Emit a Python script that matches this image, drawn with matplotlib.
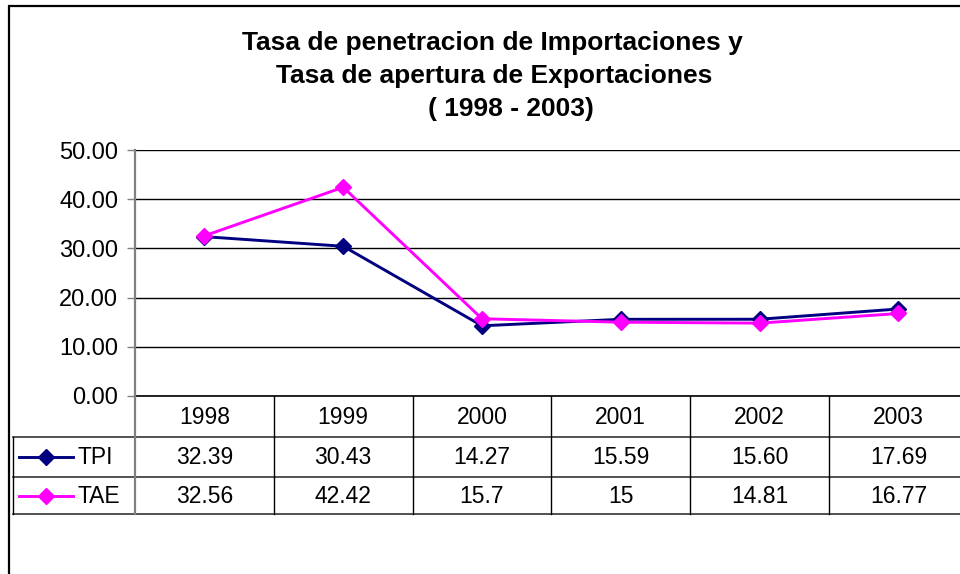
import matplotlib
matplotlib.use("Agg")
import matplotlib.pyplot as plt
from matplotlib.patches import Rectangle

plt.rcParams['font.family'] = ['Liberation Sans', 'DejaVu Sans']

years = ["1998", "1999", "2000", "2001", "2002", "2003"]
tpi = [32.39, 30.43, 14.27, 15.59, 15.60, 17.69]
tae = [32.56, 42.42, 15.7, 15, 14.81, 16.77]
tpi_labels = ["32.39", "30.43", "14.27", "15.59", "15.60", "17.69"]
tae_labels = ["32.56", "42.42", "15.7", "15", "14.81", "16.77"]
series_names = ["TPI", "TAE"]
colors = ["#000080", "#FF00FF"]
title_lines = ["Tasa de penetracion de Importaciones y",
               "Tasa de apertura de Exportaciones",
               "( 1998 - 2003)"]
yticks = [0, 10, 20, 30, 40, 50]

W, H = 960, 574
fig = plt.figure(figsize=(W / 100, H / 100), dpi=100)
fig.patch.set_facecolor("white")

# outer chart border
fig.patches.append(Rectangle((9 / W, -0.1), 1.2, 1 - 6 / H + 0.1, transform=fig.transFigure,
                             fill=False, edgecolor="black", lw=1.6))

# plot area
colw = 138.8
left_px, top_px, bot_px = 135, 150, 396
ax = fig.add_axes([left_px / W, 1 - bot_px / H, 6 * colw / W, (bot_px - top_px) / H])
ax.set_xlim(-0.5, 5.5)
ax.set_ylim(0, 50)
ax.set_yticks(yticks)
ax.set_yticklabels([f"{v:.2f}" for v in yticks], fontsize=17)
ax.set_xticks([])
ax.yaxis.grid(True, color="black", lw=1.0)
ax.set_axisbelow(True)
for s in ["top", "right"]:
    ax.spines[s].set_visible(False)
ax.spines["bottom"].set_color("black")
ax.spines["bottom"].set_linewidth(1.2)
ax.spines["left"].set_color("#808080")
ax.spines["left"].set_linewidth(1.6)
ax.tick_params(axis="y", direction="out", length=6, width=1, color="#808080", pad=6)
ax.patch.set_alpha(0)

xs = list(range(len(years)))
for vals, c in zip([tpi, tae], colors):
    ax.plot(xs, vals, color=c, lw=2.1, marker="D", ms=8, mec=c, mfc=c, clip_on=False, zorder=3)

# data table
row_top_px = [396, 437, 477, 514]
tab_left_px = 13
xl = -0.5 - (left_px - tab_left_px) / colw
tax = fig.add_axes([tab_left_px / W, 1 - 514 / H, (left_px + 6 * colw - tab_left_px) / W, 118 / H])
tax.set_xlim(xl, 5.5)
tax.set_ylim(118, 0)
tax.axis("off")
rows = [r - 396 for r in row_top_px]
lc = "#333333"
for r in rows[1:]:
    tax.plot([xl, 5.5], [r, r], color=lc, lw=1.2, clip_on=False)
tax.plot([-0.5, -0.5], [0, rows[-1]], color="#808080", lw=1.6, clip_on=False)
for i in range(len(years) - 1):
    tax.plot([i + 0.5, i + 0.5], [0, rows[-1]], color="black", lw=1.0, clip_on=False)
tax.plot([xl, xl], [rows[1], rows[-1]], color="black", lw=1.0, clip_on=False)

for i, y in enumerate(years):
    tax.text(i, (rows[0] + rows[1]) / 2 + 1, y, ha="center", va="center", fontsize=16.5)
for k, (labs, name, c) in enumerate(zip([tpi_labels, tae_labels], series_names, colors)):
    yc = (rows[k + 1] + rows[k + 2]) / 2 + 1
    for i, lab in enumerate(labs):
        tax.text(i, yc, lab, ha="center", va="center", fontsize=16.5)
    x0 = -0.5 + (19 - left_px) / colw
    x1 = -0.5 + (73 - left_px) / colw
    xm = -0.5 + (46 - left_px) / colw
    tax.plot([x0, x1], [yc - 1, yc - 1], color=c, lw=2.1, clip_on=False)
    tax.plot([xm], [yc - 1], marker="D", ms=8, color=c, mec=c, clip_on=False)
    tax.text(-0.5 + (78 - left_px) / colw, yc, name, ha="left", va="center", fontsize=16.5)

# title
for txt, xc, yb in zip(title_lines, [492, 494, 511], [50, 83, 116]):
    fig.text(xc / W, 1 - yb / H, txt, ha="center", va="baseline", fontsize=19, fontweight="bold")

fig.savefig("out.png", dpi=100)
